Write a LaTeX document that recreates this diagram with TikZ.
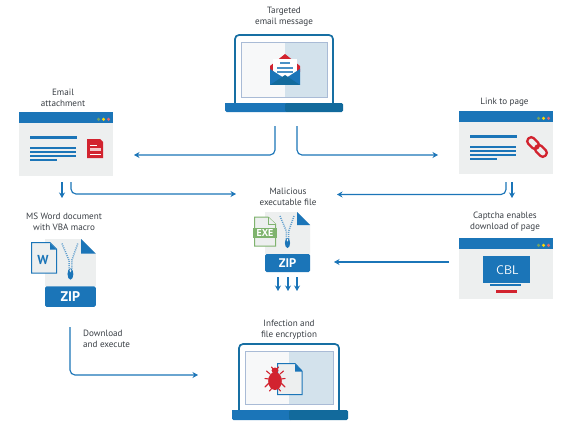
\documentclass[tikz,border=0pt]{standalone}
\usepackage{fontspec}
\setmainfont{PT Sans}
\usetikzlibrary{arrows.meta}
\definecolor{bl}{HTML}{1B75B8}
\definecolor{bld}{HTML}{126A9C}
\definecolor{frame}{HTML}{176FA3}
\definecolor{rd}{HTML}{D2232F}
\definecolor{gy}{HTML}{EDEFEF}
\definecolor{scrL}{HTML}{F7F8F9}
\definecolor{scrR}{HTML}{D3E2EC}
\definecolor{scrE}{HTML}{A9BBD6}
\definecolor{txt}{HTML}{3A3F45}
\definecolor{gn}{HTML}{7FB36E}
\tikzset{
  lbl/.style={font=\fontsize{9.1}{10.7}\selectfont,text=txt,align=center,inner sep=0pt},
  flow/.style={draw=bl,line width=1.15pt,-{Stealth[length=5.5pt,width=6pt]},rounded corners=5pt},
  zipt/.style={draw=bl!70,line width=1.5pt,dash pattern=on 1pt off 1.1pt},
}
% laptop: left right top bottom  baseleft baseright basebottom split
\newcommand\laptop[8]{%
  \fill[scrL] (#1+6,#3+7) rectangle (#8,#4-6);
  \fill[scrR] (#8,#3+7) rectangle (#2-6,#4-6);
  \draw[scrE,line width=.8pt] (#1+6,#3+7) rectangle (#2-6,#4-6);
  \draw[frame,line width=1.7pt,rounded corners=4pt] (#1,#4) -- (#1,#3) -- (#2,#3) -- (#2,#4);
  \fill[bl,rounded corners=1.5pt] (#5,#4) rectangle (#8+3,#7);
  \fill[bld,rounded corners=1.5pt] (#8,#4) rectangle (#6,#7);
  \fill[bl] (#5,#4) rectangle (#8,#7-2);
  \fill[bl] (#5+2,#7-2) rectangle (#8,#7);
}
% window: left top bottom
\newcommand\win[3]{%
  \fill[gy] (#1,#2) rectangle (#1+94,#3);
  \fill[bl] (#1,#2) rectangle (#1+94,#2+11);
  \fill[gn!90!black] (#1+79.5,#2+7.3) circle (1.7pt);
  \fill[yellow!75!orange] (#1+84.5,#2+7.3) circle (1.7pt);
  \fill[rd!70] (#1+89.5,#2+7.3) circle (1.7pt);
}
\newcommand\winlines[2]{%
  \fill[bl] (#1,#2) rectangle (#1+47,#2+3);
  \fill[bl] (#1,#2+11) rectangle (#1+46,#2+13);
  \fill[bl] (#1,#2+15) rectangle (#1+46,#2+17);
  \fill[bl] (#1,#2+19) rectangle (#1+46,#2+21);
  \fill[bl] (#1,#2+23) rectangle (#1+27,#2+25);
}
% zip doc: x y scale fontsize
\newcommand\zipdoc[4]{%
  \begin{scope}[shift={(#1,#2)},scale=#3]
    \fill[gy] (0,0) -- (32,0) -- (45,13) -- (45,42) -- (0,42) -- cycle;
    \fill[bl] (32,0) -- (45,13) -- (32,13) -- cycle;
    \fill[bl,rounded corners=1.5pt] (0,42) -- (45,42) -- (45,60) -- (0,60) -- cycle;
    \draw[zipt] (15,4) -- (21.3,19) -- (21.3,27);
    \draw[zipt] (29,4) -- (23.7,19) -- (23.7,27);
    \fill[bl] (22.5,31) ellipse (2.6 and 5);
    \fill[gy] (22.5,28) ellipse (.8 and 1.5);
    \node[font=\bfseries\fontsize{#4}{#4}\selectfont,text=white,inner sep=0pt] at (22.5,51) {ZIP};
  \end{scope}%
}
\begin{document}
\begin{tikzpicture}[x=1pt,y=-1pt]
\useasboundingbox[fill=white] (0,0) rectangle (577,433);

% top laptop
\laptop{235}{333}{35}{103}{225}{343}{112}{285}
\begin{scope}[shift={(270,54)}]
  \fill[bl] (0,12) -- (30,12) -- (30,31) -- (0,31) -- cycle;
  \fill[rd] (0,12) -- (15,0) -- (30,12) -- (30,18) -- (0,18) -- cycle;
  \fill[white] (3,5) rectangle (27,24);
  \fill[bl!80] (10,8.5) rectangle (20,10.5);
  \fill[bl!80] (7,13) rectangle (23,15);
  \fill[bl!80] (7,17) rectangle (23,19);
  \fill[bl] (0,15) -- (14,24) -- (16,24) -- (30,15) -- (30,31) -- (0,31) -- cycle;
  \fill[bld] (0,31) -- (15,21) -- (30,31) -- cycle;
\end{scope}

% left window
\win{19}{112}{176}
\winlines{30}{136}
\fill[rd] (87,139) -- (100,139) -- (103,142) -- (103,158) -- (87,158) -- cycle;
\fill[white] (90,144.5) rectangle (97,146);
\fill[white!75!rd] (90,148) rectangle (101,151);
\fill[white] (90,153.5) rectangle (101,155);

% right window
\win{459}{111}{174}
\winlines{470}{135}
\begin{scope}[shift={(537,147)},rotate=-45]
  \draw[rd,line width=2.3pt,rounded corners=3.4pt] (-1,-3.9) rectangle (12,3.9);
  \draw[rd,line width=2.3pt,rounded corners=3.4pt] (-12,-3.9) rectangle (1,3.9);
\end{scope}

% captcha window
\win{459}{238}{299}
\fill[bl] (483,256) rectangle (530,283);
\node[font=\sffamily\fontsize{12.5}{12.5}\selectfont,text=white,inner sep=0pt] (capt) at (507.5,270) {CBL};
\fill[bl] (490,283.5) rectangle (521,286);
\fill[rd] (496,290) rectangle (517,292.5);

% zip docs
\zipdoc{265}{212}{1}{12.5}
\zipdoc{45}{239}{1.13}{14}

% EXE
\draw[gn,line width=1pt,fill=gy] (254.5,217) -- (268,217) -- (275.5,224) -- (275.5,246) -- (254.5,246) -- cycle;
\draw[gn,line width=1pt,fill=gy] (268,217) -- (268,224) -- (275.5,224);
\fill[gn] (253,228) rectangle (277,237.5);
\node[font=\bfseries\fontsize{10}{10}\selectfont,text=white,inner sep=0pt] at (265,232.8) {EXE};

% Word doc
\draw[bl,line width=1pt,fill=gy] (31.5,242.5) -- (50,242.5) -- (56.5,249) -- (56.5,273) -- (31.5,273) -- cycle;
\fill[bl] (50,243) -- (56.5,249.5) -- (50,249.5) -- cycle;
\node[font=\bfseries\fontsize{13}{13}\selectfont,text=bl,inner sep=0pt] at (43,259.5) {W};

% bottom laptop
\laptop{239}{339}{344}{410}{232}{348}{420}{289}
\draw[bl,line width=1pt,fill=gy] (277.5,363.5) -- (295,363.5) -- (302,371) -- (302,394.5) -- (277.5,394.5) -- cycle;
\fill[bl] (295,364) -- (302,371.5) -- (295,371.5) -- cycle;
\begin{scope}[shift={(275,380)}]
  \fill[rd] (0,1) ellipse (6.8 and 9);
  \fill[rd] (0,-9.5) ellipse (3.4 and 3);
  \draw[rd,line width=1.1pt,line cap=round]
    (-5,-6) -- (-8.5,-9) (5,-6) -- (8.5,-9)
    (-6,-1) -- (-10,-1.5) (6,-1) -- (10,-1.5)
    (-6,3) -- (-10,7) (6,3) -- (10,7)
    (-3,8) -- (-5.5,11) (3,8) -- (5.5,11)
    (-2,-11) -- (-3.5,-13) (2,-11) -- (3.5,-13);
\end{scope}

% labels
\node[lbl] (l1) at (284,16.5) {Targeted\\email message};
\node[lbl] (l2) at (63,98) {Email\\attachment};
\node[lbl] (l3) at (504.5,102) {Link to page};
\node[lbl] (l4) at (288,196.5) {Malicious\\executable file};
\node[lbl] (l5) at (64,221.5) {MS Word document\\with VBA macro};
\node[lbl] (l6) at (505,221.5) {Captcha enables\\download of page};
\node[lbl,align=left,anchor=west] (l7) at (83,338.5) {Download\\and execute};
\node[lbl] (l8) at (289,330) {Infection and\\file encryption};

% connector ends
\coordinate (a1) at (275,126); \coordinate (a1t) at (134,155);
\coordinate (a2) at (297,126); \coordinate (a2t) at (438,155);
\coordinate (b1) at (62,182);  \coordinate (b1t) at (62,198);
\coordinate (c1) at (71,182);  \coordinate (c1t) at (236,194);
\coordinate (d1) at (506,182); \coordinate (d1t) at (337,194.5);
\coordinate (e1) at (512,182); \coordinate (e1t) at (512,198);
\coordinate (f1) at (449,262); \coordinate (f1t) at (334,262);
\coordinate (g1) at (70,327);  \coordinate (g1t) at (198,375);
\coordinate (h1) at (278,277); \coordinate (h1t) at (278,291);
\coordinate (h2) at (288,277); \coordinate (h2t) at (288,291);
\coordinate (h3) at (297,277); \coordinate (h3t) at (297,291);

\draw[flow] (a1) |- (a1t);
\draw[flow] (a2) |- (a2t);
\draw[flow] (b1) -- (b1t);
\draw[flow] (c1) |- (c1t);
\draw[flow] (d1) |- (d1t);
\draw[flow] (e1) -- (e1t);
\draw[flow] (f1) -- (f1t);
\draw[flow] (g1) |- (g1t);
\draw[flow] (h1) -- (h1t);
\draw[flow] (h2) -- (h2t);
\draw[flow] (h3) -- (h3t);
\end{tikzpicture}
\end{document}
